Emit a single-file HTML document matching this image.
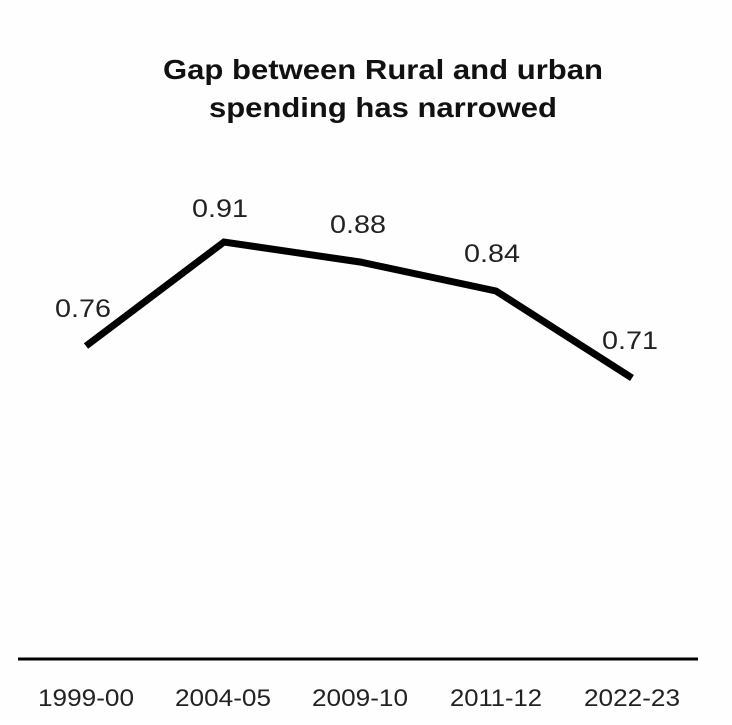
<!DOCTYPE html>
<html><head><style>body{margin:0;background:#fff}</style></head><body>
<svg width="732" height="720" xmlns="http://www.w3.org/2000/svg" font-family="Liberation Sans, sans-serif">
<rect width="732" height="720" fill="#fefefe"/>
<text x="383" y="79" font-size="28" font-weight="bold" text-anchor="middle" textLength="440" lengthAdjust="spacingAndGlyphs" fill="#111">Gap between Rural and urban</text>
<text x="383" y="117" font-size="28" font-weight="bold" text-anchor="middle" textLength="348" lengthAdjust="spacingAndGlyphs" fill="#111">spending has narrowed</text>
<polyline points="86,346 224,242 360,262 496,291 632,378" fill="none" stroke="#000" stroke-width="7" stroke-linejoin="miter"/>
<g font-size="25" fill="#222" text-anchor="middle">
<text x="83" y="317" textLength="56" lengthAdjust="spacingAndGlyphs">0.76</text>
<text x="220" y="217" textLength="56" lengthAdjust="spacingAndGlyphs">0.91</text>
<text x="358" y="233" textLength="56" lengthAdjust="spacingAndGlyphs">0.88</text>
<text x="492" y="262" textLength="56" lengthAdjust="spacingAndGlyphs">0.84</text>
<text x="630" y="349" textLength="56" lengthAdjust="spacingAndGlyphs">0.71</text>
</g>
<line x1="18" y1="659" x2="698" y2="659" stroke="#000" stroke-width="3"/>
<g font-size="24" fill="#222" text-anchor="middle">
<text x="86" y="706" textLength="96" lengthAdjust="spacingAndGlyphs">1999-00</text>
<text x="223" y="706" textLength="96" lengthAdjust="spacingAndGlyphs">2004-05</text>
<text x="360" y="706" textLength="96" lengthAdjust="spacingAndGlyphs">2009-10</text>
<text x="496" y="706" textLength="92" lengthAdjust="spacingAndGlyphs">2011-12</text>
<text x="632" y="706" textLength="96" lengthAdjust="spacingAndGlyphs">2022-23</text>
</g>
</svg>
</body></html>
